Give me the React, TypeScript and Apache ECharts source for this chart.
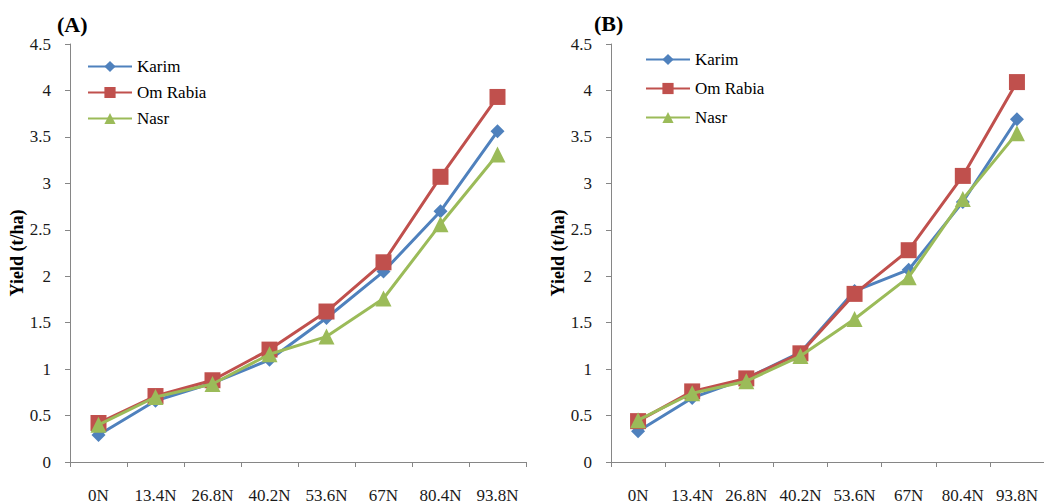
import React, { useEffect, useRef } from "react";
import * as echarts from "echarts";

const categories = ["0N", "13.4N", "26.8N", "40.2N", "53.6N", "67N", "80.4N", "93.8N"];
const seriesNames = ["Karim", "Om Rabia", "Nasr"];

const karimA = [0.29, 0.66, 0.85, 1.1, 1.55, 2.05, 2.7, 3.56];
const omRabiaA = [0.42, 0.71, 0.88, 1.21, 1.62, 2.15, 3.07, 3.93];
const nasrA = [0.4, 0.7, 0.84, 1.16, 1.35, 1.76, 2.56, 3.31];

const karimB = [0.33, 0.69, 0.9, 1.18, 1.84, 2.07, 2.8, 3.69];
const omRabiaB = [0.44, 0.76, 0.9, 1.17, 1.81, 2.28, 3.08, 4.09];
const nasrB = [0.45, 0.74, 0.87, 1.14, 1.54, 1.99, 2.83, 3.54];

const panelTitles = ["(A)", "(B)"];
const yAxisTitle = "Yield (t/ha)";

const colors = ["#4F81BD", "#C0504D", "#9BBB59"];
const symbols = ["diamond", "rect", "triangle"];
const symbolSizes = [14, 16, 16];
const FONT = "Liberation Serif, Times New Roman, serif";

export default function App() {
  const ref = useRef<HTMLDivElement>(null);
  useEffect(() => {
    if (!ref.current) return;
    const chart = echarts.init(ref.current, null, { renderer: "svg" });
    const panels = [
      [karimA, omRabiaA, nasrA],
      [karimB, omRabiaB, nasrB],
    ];
    const grids = [
      { left: 70, top: 44, width: 456, height: 420 },
      { left: 611, top: 44, width: 435, height: 420 },
    ];
    const xAxis = grids.map((_, i) => ({
      type: "category",
      gridIndex: i,
      data: categories,
      boundaryGap: true,
      axisLine: { lineStyle: { color: "#868686", width: 1 } },
      axisTick: { show: true, length: 5, lineStyle: { color: "#868686" } },
      axisLabel: { fontFamily: FONT, fontSize: 17, color: "#1a1a1a", margin: 25, interval: 0 },
      splitLine: { show: false },
    }));
    const yAxis = grids.map((_, i) => ({
      type: "value",
      gridIndex: i,
      min: 0,
      max: 4.5,
      interval: 0.5,
      name: yAxisTitle,
      nameLocation: "middle",
      nameRotate: 90,
      nameGap: 44,
      nameTextStyle: { fontFamily: FONT, fontSize: 18, fontWeight: "bold", color: "#000" },
      axisLine: { show: true, lineStyle: { color: "#868686", width: 1 } },
      axisTick: { show: true, length: 5, lineStyle: { color: "#868686" } },
      axisLabel: { fontFamily: FONT, fontSize: 17, color: "#1a1a1a", margin: 19 },
      splitLine: { show: false },
    }));
    const series: any[] = [];
    panels.forEach((panel, p) => {
      panel.forEach((vals, s) => {
        series.push({
          type: "line",
          name: seriesNames[s],
          xAxisIndex: p,
          yAxisIndex: p,
          data: vals,
          symbol: symbols[s],
          symbolSize: symbolSizes[s],
          itemStyle: { color: colors[s] },
          lineStyle: { color: colors[s], width: 3 },
          z: 2 + s,
        });
      });
    });
    const legendBase = {
      orient: "vertical",
      itemWidth: 44,
      itemHeight: 14,
      textStyle: { fontFamily: FONT, fontSize: 17, color: "#000" },
      data: seriesNames,
      selectedMode: false,
    };
    chart.setOption({
      animation: false,
      backgroundColor: "#fff",
      textStyle: { fontFamily: FONT },
      title: [
        { text: panelTitles[0], left: 52, top: 8, textStyle: { fontFamily: FONT, fontSize: 22, fontWeight: "bold", color: "#000" } },
        { text: panelTitles[1], left: 589, top: 7, textStyle: { fontFamily: FONT, fontSize: 22, fontWeight: "bold", color: "#000" } },
      ],
      grid: grids,
      xAxis,
      yAxis,
      legend: [
        { ...legendBase, left: 82, top: 53, itemGap: 9 },
        { ...legendBase, left: 640, top: 46, itemGap: 12 },
      ],
      series,
    });
    return () => chart.dispose();
  }, []);
  return (
    <div
      ref={ref}
      style={{ position: "fixed", left: 0, top: 0, width: 1044, height: 504 }}
    />
  );
}
